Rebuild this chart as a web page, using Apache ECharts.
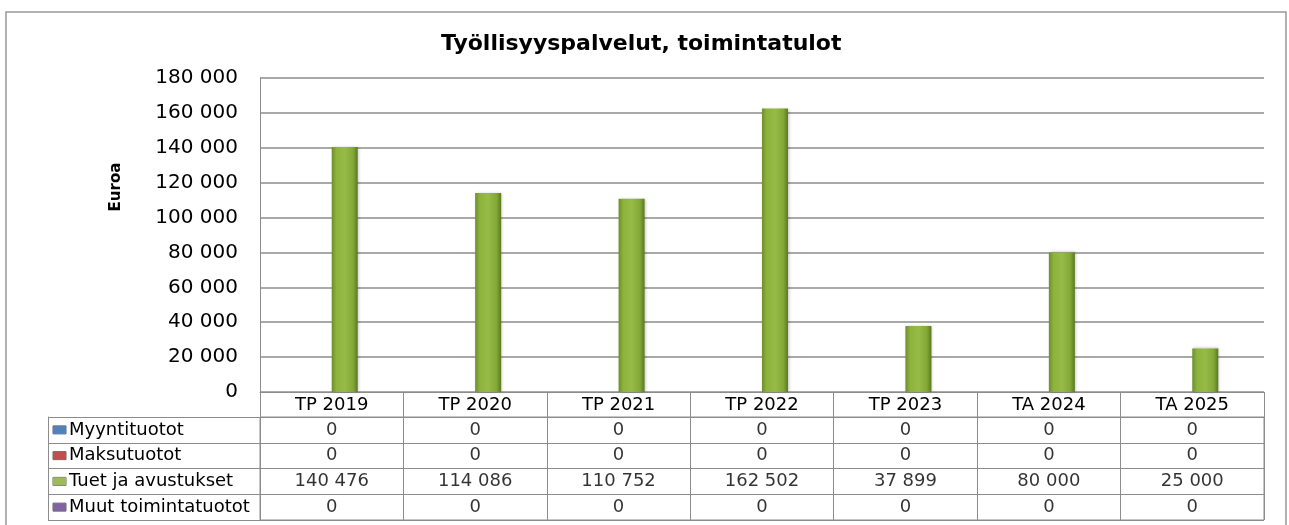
<!DOCTYPE html>
<html>
<head>
<meta charset="utf-8">
<script src="https://cdn.jsdelivr.net/npm/echarts@6/dist/echarts.min.js"></script>
<style>
  html, body { margin: 0; padding: 0; background: #fff; }
  #chart { width: 1289px; height: 525px; }
</style>
</head>
<body>
<div id="chart"></div>
<script>
// data
const categories = ['TP 2019', 'TP 2020', 'TP 2021', 'TP 2022', 'TP 2023', 'TA 2024', 'TA 2025'];
const rowNames = ['Myyntituotot', 'Maksutuotot', 'Tuet ja avustukset', 'Muut toimintatuotot'];
const myyntituotot = [0, 0, 0, 0, 0, 0, 0];
const maksutuotot = [0, 0, 0, 0, 0, 0, 0];
const tuetJaAvustukset = [140476, 114086, 110752, 162502, 37899, 80000, 25000];
const muutToimintatuotot = [0, 0, 0, 0, 0, 0, 0];
const rowColors = ['#4f81bd', '#c0504d', '#9bbb59', '#8064a2'];

const seriesData = [myyntituotot, maksutuotot, tuetJaAvustukset, muutToimintatuotot];
const font = 'DejaVu Sans, Verdana, sans-serif';
const lineCol = '#8c8c8c';

function fmt(v) {
  return String(v).replace(/\B(?=(\d{3})+(?!\d))/g, ' ');
}

// cells of the data table
const cells = [];
seriesData.forEach((arr, r) => {
  arr.forEach((v, c) => cells.push([c, r, v]));
});

const greenBar = new echarts.graphic.LinearGradient(0, 0, 1, 0, [
  { offset: 0, color: '#6e8e2a' },
  { offset: 0.18, color: '#8db33c' },
  { offset: 0.5, color: '#97bb47' },
  { offset: 0.82, color: '#84a838' },
  { offset: 1, color: '#5a7a20' }
]);
const barColors = ['#4f81bd', '#c0504d', greenBar, '#8064a2'];

const rich = {};
rowColors.forEach((c, i) => {
  rich['s' + i] = { width: 13, height: 8, backgroundColor: c, borderColor: '#666', borderWidth: 0.5 };
});
rich.t = { fontFamily: font, fontSize: 18, color: '#000', padding: [0, 0, 0, 3] };

const chart = echarts.init(document.getElementById('chart'));
chart.setOption({
  animation: false,
  title: {
    text: 'Työllisyyspalvelut, toimintatulot',
    left: 436,
    top: 28,
    textStyle: { fontFamily: font, fontSize: 22, fontWeight: 'bold', color: '#000' }
  },
  graphic: [{
    type: 'rect',
    shape: { x: 6, y: 12, width: 1280, height: 530 },
    style: { fill: 'none', stroke: '#999', lineWidth: 1.5 },
    silent: true
  }],
  grid: [
    { left: 260, right: 25, top: 78, bottom: 133, outerBoundsMode: 'none' },
    { left: 260, right: 25, top: 417, bottom: 5, show: true, borderColor: lineCol, borderWidth: 1, outerBoundsMode: 'none' }
  ],
  xAxis: [
    {
      type: 'category', gridIndex: 0, data: categories,
      axisLine: { lineStyle: { color: lineCol, width: 1 } },
      axisTick: { show: true, length: 25, lineStyle: { color: lineCol } },
      axisLabel: { margin: 4, fontFamily: font, fontSize: 18, color: '#000', interval: 0 }
    },
    {
      type: 'category', gridIndex: 1, data: categories,
      axisLine: { show: false }, axisTick: { show: false }, axisLabel: { show: false },
      splitLine: { show: true, lineStyle: { color: lineCol } }
    }
  ],
  yAxis: [
    {
      type: 'value', gridIndex: 0, min: 0, max: 180000, interval: 20000,
      name: 'Euroa', nameLocation: 'middle', nameRotate: 90, nameGap: 136,
      nameTextStyle: { fontFamily: font, fontSize: 15, fontWeight: 'bold', color: '#000', padding: [0, 0, 0, 96] },
      axisLine: { show: true, lineStyle: { color: lineCol } },
      axisTick: { show: false },
      axisLabel: { margin: 22, fontFamily: font, fontSize: 20, color: '#000', formatter: fmt },
      splitLine: { lineStyle: { color: lineCol, width: 1.5 } }
    },
    {
      type: 'category', gridIndex: 1, data: rowNames, inverse: true,
      axisLine: { show: true, lineStyle: { color: lineCol } },
      axisTick: { show: true, length: 212, lineStyle: { color: lineCol } },
      axisLabel: {
        margin: 207, align: 'left',
        formatter: (v, i) => '{s' + i + '|}{t|' + v + '}',
        rich: rich
      },
      splitLine: { show: true, lineStyle: { color: lineCol } }
    },
    {
      type: 'category', gridIndex: 1, data: rowNames, inverse: true,
      position: 'left', offset: 212,
      axisLine: { show: true, lineStyle: { color: lineCol } },
      axisTick: { show: false }, axisLabel: { show: false }, splitLine: { show: false }
    }
  ],
  series: rowNames.map((name, i) => ({
    name: name,
    type: 'bar',
    xAxisIndex: 0, yAxisIndex: 0,
    data: seriesData[i],
    barWidth: 26,
    barGap: '0%',
    itemStyle: {
      color: barColors[i],
      shadowColor: 'rgba(0,0,0,0.25)', shadowBlur: 3, shadowOffsetX: 1
    }
  })).concat([{
    type: 'scatter',
    xAxisIndex: 1, yAxisIndex: 1,
    data: cells,
    symbolSize: 0,
    silent: true,
    label: {
      show: true, position: 'inside',
      fontFamily: font, fontSize: 18, color: '#000',
      formatter: p => fmt(p.value[2])
    }
  }])
});
</script>
</body>
</html>
